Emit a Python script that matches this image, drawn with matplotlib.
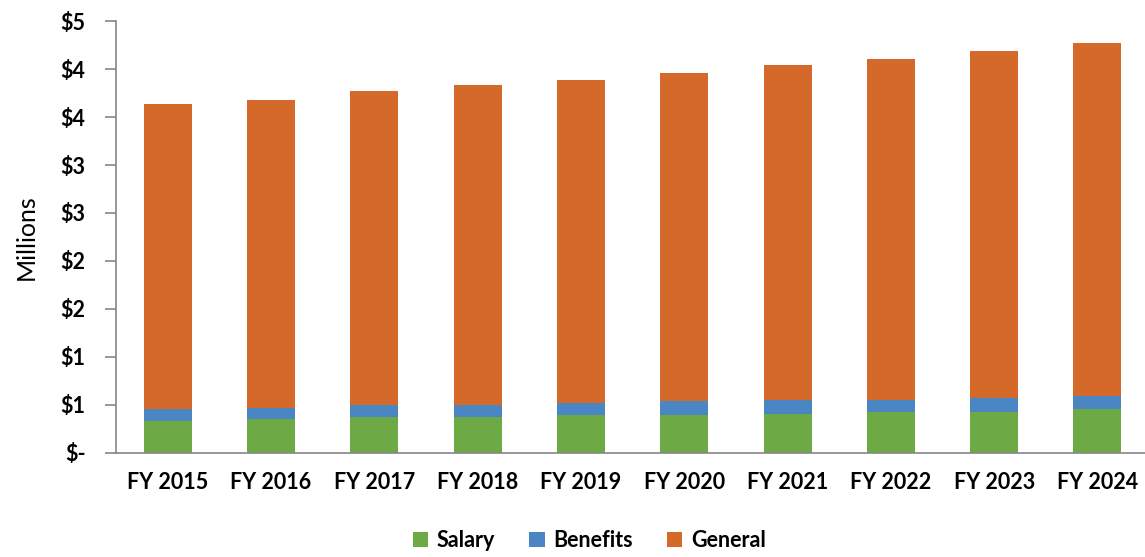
import matplotlib.pyplot as plt
from matplotlib.ticker import FuncFormatter
import numpy as np

years = ['FY 2015', 'FY 2016', 'FY 2017', 'FY 2018', 'FY 2019',
         'FY 2020', 'FY 2021', 'FY 2022', 'FY 2023', 'FY 2024']
salary = [0.33, 0.35, 0.37, 0.37, 0.39, 0.39, 0.40, 0.42, 0.42, 0.45]
benefits = [0.12, 0.11, 0.13, 0.13, 0.13, 0.15, 0.15, 0.13, 0.15, 0.14]
totals = [3.64, 3.68, 3.77, 3.83, 3.89, 3.96, 4.04, 4.11, 4.19, 4.27]
general = [t - s - b for t, s, b in zip(totals, salary, benefits)]

c_sal = '#6DAA45'
c_ben = '#4A86C4'
c_gen = '#D4692A'
gray = '#868686'

plt.rcParams['font.family'] = ['Lato', 'DejaVu Sans']

fig = plt.figure(figsize=(11.45, 5.57), dpi=100)
ax = fig.add_axes([0.1013, 0.1875, 0.8987, 0.7743])

x = np.arange(len(years))
w = 0.465
ax.bar(x, salary, w, color=c_sal, label='Salary')
ax.bar(x, benefits, w, bottom=salary, color=c_ben, label='Benefits')
ax.bar(x, general, w, bottom=np.add(salary, benefits), color=c_gen, label='General')

ax.set_xlim(-0.5, 9.46)
ax.set_ylim(0, 4.5)
ax.set_yticks(np.arange(0, 4.51, 0.5))


def money(v, pos):
    if abs(v) < 1e-9:
        return '$-'
    return '$%d' % int(np.floor(v + 0.5))


ax.yaxis.set_major_formatter(FuncFormatter(money))
ax.set_xticks(x)
ax.set_xticklabels(years)

for s in ['top', 'right']:
    ax.spines[s].set_visible(False)
for s in ['left', 'bottom']:
    ax.spines[s].set_color(gray)
    ax.spines[s].set_linewidth(1.2)

ax.tick_params(axis='y', length=8, width=1.2, color=gray, direction='out',
               labelsize=15.5, pad=14)
ax.tick_params(axis='x', length=0, labelsize=15.5, pad=14)
for lab in ax.get_xticklabels() + ax.get_yticklabels():
    lab.set_fontweight('bold')

ax.set_ylabel('Millions', fontsize=18, labelpad=16)

ax.legend(loc='center', bbox_to_anchor=(0.46, -0.205), ncol=3, frameon=False,
          prop={'size': 15.5, 'weight': 'bold'}, handlelength=0.7,
          handleheight=0.7, columnspacing=1.6, handletextpad=0.4)

fig.savefig('out.png', dpi=100)
